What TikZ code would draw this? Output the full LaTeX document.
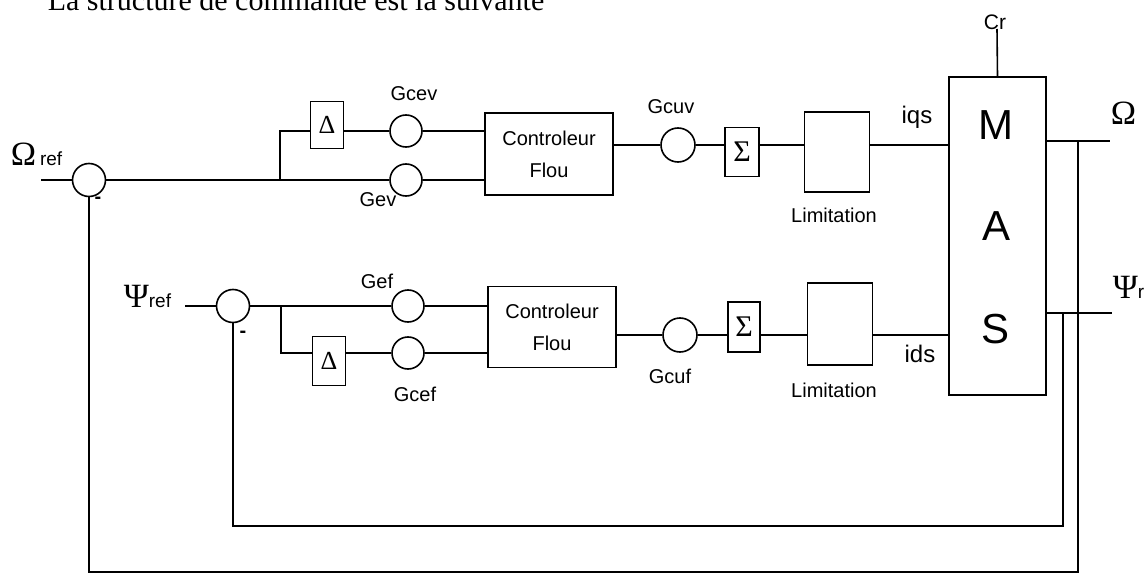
\documentclass[tikz,border=0pt]{standalone}
\usepackage{fontspec}
\setmainfont{Liberation Serif}
\newfontfamily\arialf{Liberation Sans}
\begin{document}
\begin{tikzpicture}[x=1pt,y=-1pt, line width=1.6pt,
  sumc/.style={circle, draw, minimum size=33pt, inner sep=0pt, fill=white},
  gainc/.style={circle, draw, minimum size=32pt, inner sep=0pt},
  blk/.style={draw, inner sep=0pt, fill=white},
  lbl/.style={font=\arialf\fontsize{20}{22}\selectfont, inner sep=0pt},
  big/.style={font=\arialf\fontsize{42}{42}\selectfont, inner sep=0pt},
  greek/.style={font=\fontsize{34}{34}\selectfont, inner sep=0pt, anchor=base west},
  minus/.style={font=\arialf\bfseries\fontsize{20}{20}\selectfont, inner sep=0pt},
]
\useasboundingbox (0,0) rectangle (1146,575);
\node[anchor=base west, inner sep=0pt, font=\fontsize{30}{30}\selectfont] (title) at (47,11) {La structure de commande est la suivante};

% ---------- top loop (speed) ----------
\node[sumc] (so) at (89,180) {};
\node[gainc] (gcev) at (406,131) {};
\node[gainc] (gev) at (406,180) {};
\node[blk, minimum width=33pt, minimum height=47pt, font=\fontsize{26}{26}\selectfont] (d1) at (327,125) {Δ};
\node[blk, minimum width=128pt, minimum height=82pt, align=center, font=\arialf\fontsize{20}{32}\selectfont] (c1) at (549,154) {Controleur\\Flou};
\node[gainc, minimum size=34pt] (gcuv) at (678,145) {};
\node[blk, minimum width=34pt, minimum height=49pt, font=\fontsize{30}{30}\selectfont] (s1) at (742,152) {Σ};
\node[blk, minimum width=65pt, minimum height=80pt] (l1) at (837,152) {};
\node[blk, minimum width=97pt, minimum height=318pt] (mas) at (997.5,236) {};
\node[big] (tm) at (996,125) {M};
\node[big] (ta) at (996,226) {A};
\node[big] (ts) at (995,329) {S};

\node[greek] (lor) at (10,166) {Ω\hspace{4pt}{\arialf\fontsize{19}{19}\selectfont ref}};
\node[lbl] (lgcev) at (414,94) {Gcev};
\node[lbl] (lgev) at (378,200) {Gev};
\node[lbl] (lgcuv) at (671,107) {Gcuv};
\node[lbl] (llim1) at (834,215) {Limitation};
\node[lbl, font=\arialf\fontsize{24}{24}\selectfont] (liqs) at (917,117) {iqs};
\node[lbl, font=\arialf\fontsize{21}{21}\selectfont] (lcr) at (995,22) {Cr};
\node[greek] (lo) at (1110,125) {Ω};
\node[minus] (m1) at (98,200) {-};

\coordinate (inO) at (41,180);
\coordinate (b1) at (280,180);
\draw (inO) -- (so);
\draw (so) -- (gev);
\draw (b1) |- (d1.west |- gcev);
\draw (d1.east |- gcev) -- (gcev);
\draw (gcev) -- (c1.west |- gcev);
\draw (gev) -- (c1.west |- gev);
\draw (c1.east |- gcuv) -- (gcuv);
\draw (gcuv) -- (s1.west |- gcuv);
\draw (s1.east |- gcuv) -- (l1.west |- gcuv);
\draw (l1.east |- gcuv) -- (mas.west |- gcuv);
\coordinate (cr) at (997,29);
\draw (mas.north) -- (cr);

% ---------- bottom loop (flux) ----------
\node[sumc] (sp) at (233,306) {};
\node[gainc] (gef) at (408,306) {};
\node[gainc] (gcef) at (408,353) {};
\node[blk, minimum width=33pt, minimum height=49pt, font=\fontsize{26}{26}\selectfont] (d2) at (329,361) {Δ};
\node[blk, minimum width=128pt, minimum height=81pt, align=center, font=\arialf\fontsize{20}{32}\selectfont] (c2) at (552,327) {Controleur\\Flou};
\node[gainc, minimum size=34pt] (gcuf) at (680,335) {};
\node[blk, minimum width=32pt, minimum height=50pt, font=\fontsize{30}{30}\selectfont] (s2) at (744,327) {Σ};
\node[blk, minimum width=65pt, minimum height=82pt] (l2) at (840,324) {};

\node[greek] (lpr) at (123,307) {Ψ{\arialf\fontsize{19}{19}\selectfont ref}};
\node[lbl] (lgef) at (377,281) {Gef};
\node[lbl] (lgcef) at (415,394) {Gcef};
\node[lbl] (lgcuf) at (670,376) {Gcuf};
\node[lbl] (llim2) at (834,390) {Limitation};
\node[lbl, font=\arialf\fontsize{24}{24}\selectfont] (lids) at (920,354) {ids};
\node[greek] (lp) at (1112,298) {Ψ{\arialf\fontsize{19}{19}\selectfont r}};
\node[minus] (m2) at (243,334) {-};

\coordinate (inP) at (185,306);
\coordinate (b2) at (281,306);
\draw (inP) -- (sp);
\draw (sp) -- (gef);
\draw (b2) |- (d2.west |- gcef);
\draw (d2.east |- gcef) -- (gcef);
\draw (gef) -- (c2.west |- gef);
\draw (gcef) -- (c2.west |- gcef);
\draw (c2.east |- gcuf) -- (gcuf);
\draw (gcuf) -- (s2.west |- gcuf);
\draw (s2.east |- gcuf) -- (l2.west |- gcuf);
\draw (l2.east |- gcuf) -- (mas.west |- gcuf);

% ---------- outputs and feedback ----------
\coordinate (oO) at (1110,141);
\coordinate (oP) at (1112,313);
\draw (mas.east |- oO) -- (oO);
\draw (mas.east |- oP) -- (oP);
\coordinate (fO) at (1078,141);
\coordinate (bO) at (1078,572);
\coordinate (fP) at (1063,313);
\coordinate (bP) at (1063,526);
\draw (so) |- (bO) -- (fO);
\draw (sp) |- (bP) -- (fP);
\end{tikzpicture}
\end{document}
